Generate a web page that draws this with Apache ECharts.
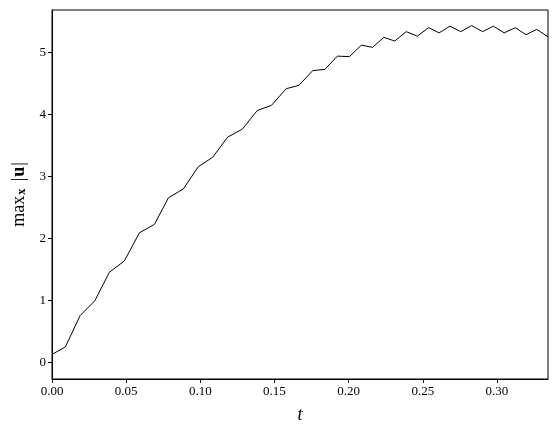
<!DOCTYPE html>
<html>
<head>
<meta charset="utf-8">
<script src="https://cdn.jsdelivr.net/npm/echarts@6/dist/echarts.min.js"></script>
<style>
html,body{margin:0;padding:0;background:#fff;}
#chart{width:557px;height:434px;}
</style>
</head>
<body>
<div id="chart"></div>
<script>
const tValues = [0, 0.0090, 0.0189, 0.0288, 0.0387, 0.0488, 0.0589, 0.0691, 0.0785, 0.0886,
  0.0986, 0.1084, 0.1184, 0.1283, 0.1384, 0.1479, 0.1579, 0.1664, 0.1758, 0.1840,
  0.1924, 0.2005, 0.2086, 0.2161, 0.2238, 0.2311, 0.2388, 0.2463, 0.2539, 0.2610,
  0.2683, 0.2756, 0.2829, 0.2903, 0.2976, 0.3049, 0.3123, 0.3196, 0.3268, 0.3344];
const maxU = [0.13, 0.249, 0.754, 0.992, 1.454, 1.638, 2.090, 2.229, 2.656, 2.801,
  3.157, 3.312, 3.635, 3.764, 4.066, 4.147, 4.417, 4.470, 4.709, 4.729,
  4.943, 4.934, 5.120, 5.084, 5.246, 5.186, 5.338, 5.265, 5.402, 5.318,
  5.426, 5.338, 5.435, 5.338, 5.426, 5.318, 5.402, 5.289, 5.375, 5.254];
const xTicks = [0, 0.05, 0.10, 0.15, 0.20, 0.25, 0.30];
const yTicks = [0, 1, 2, 3, 4, 5];

const seriesData = tValues.map((t, i) => [t, maxU[i]]);
const fontFam = '"Liberation Serif", "DejaVu Serif", serif';

const chart = echarts.init(document.getElementById('chart'), null, {renderer: 'canvas'});
chart.setOption({
  animation: false,
  backgroundColor: '#ffffff',
  grid: {
    left: 52, top: 10, width: 496, height: 369,
    show: true, borderColor: '#000', borderWidth: 1, backgroundColor: 'transparent'
  },
  xAxis: {
    type: 'value',
    min: 0, max: 0.3344,
    splitLine: {show: false},
    axisLine: {show: true, onZero: false, lineStyle: {color: '#000', width: 1}},
    axisTick: {show: true, length: 4, lineStyle: {color: '#000'}, customValues: xTicks},
    axisLabel: {
      color: '#000', fontFamily: fontFam, fontSize: 13, margin: 6,
      customValues: xTicks,
      formatter: v => v.toFixed(2)
    },
    name: 't',
    nameLocation: 'middle',
    nameGap: 27,
    nameTextStyle: {fontFamily: fontFam, fontStyle: 'italic', fontSize: 18, color: '#000'}
  },
  yAxis: {
    type: 'value',
    min: -0.268, max: 5.687,
    splitLine: {show: false},
    axisLine: {show: true, onZero: false, lineStyle: {color: '#000', width: 1}},
    axisTick: {show: true, length: 4, lineStyle: {color: '#000'}, customValues: yTicks},
    axisLabel: {
      color: '#000', fontFamily: fontFam, fontSize: 13, margin: 6,
      customValues: yTicks,
      formatter: v => String(Math.round(v))
    },
    name: '{a|max}{b|x}{a| |}{c|u}{a||}',
    nameLocation: 'middle',
    nameGap: 24,
    nameRotate: 90,
    nameTextStyle: {
      color: '#000',
      rich: {
        a: {fontFamily: fontFam, fontSize: 18, color: '#000', verticalAlign: 'bottom', lineHeight: 22},
        b: {fontFamily: fontFam, fontSize: 12, fontWeight: 'bold', color: '#000', verticalAlign: 'bottom', padding: [0, 3, 0, 1], lineHeight: 16},
        c: {fontFamily: fontFam, fontSize: 18, fontWeight: 'bold', color: '#000', verticalAlign: 'bottom', lineHeight: 22, padding: [0, 1, 0, 1]}
      }
    }
  },
  series: [{
    type: 'line',
    data: seriesData,
    showSymbol: false,
    symbol: 'none',
    lineStyle: {color: '#000', width: 1},
    clip: true
  }]
});
</script>
</body>
</html>
